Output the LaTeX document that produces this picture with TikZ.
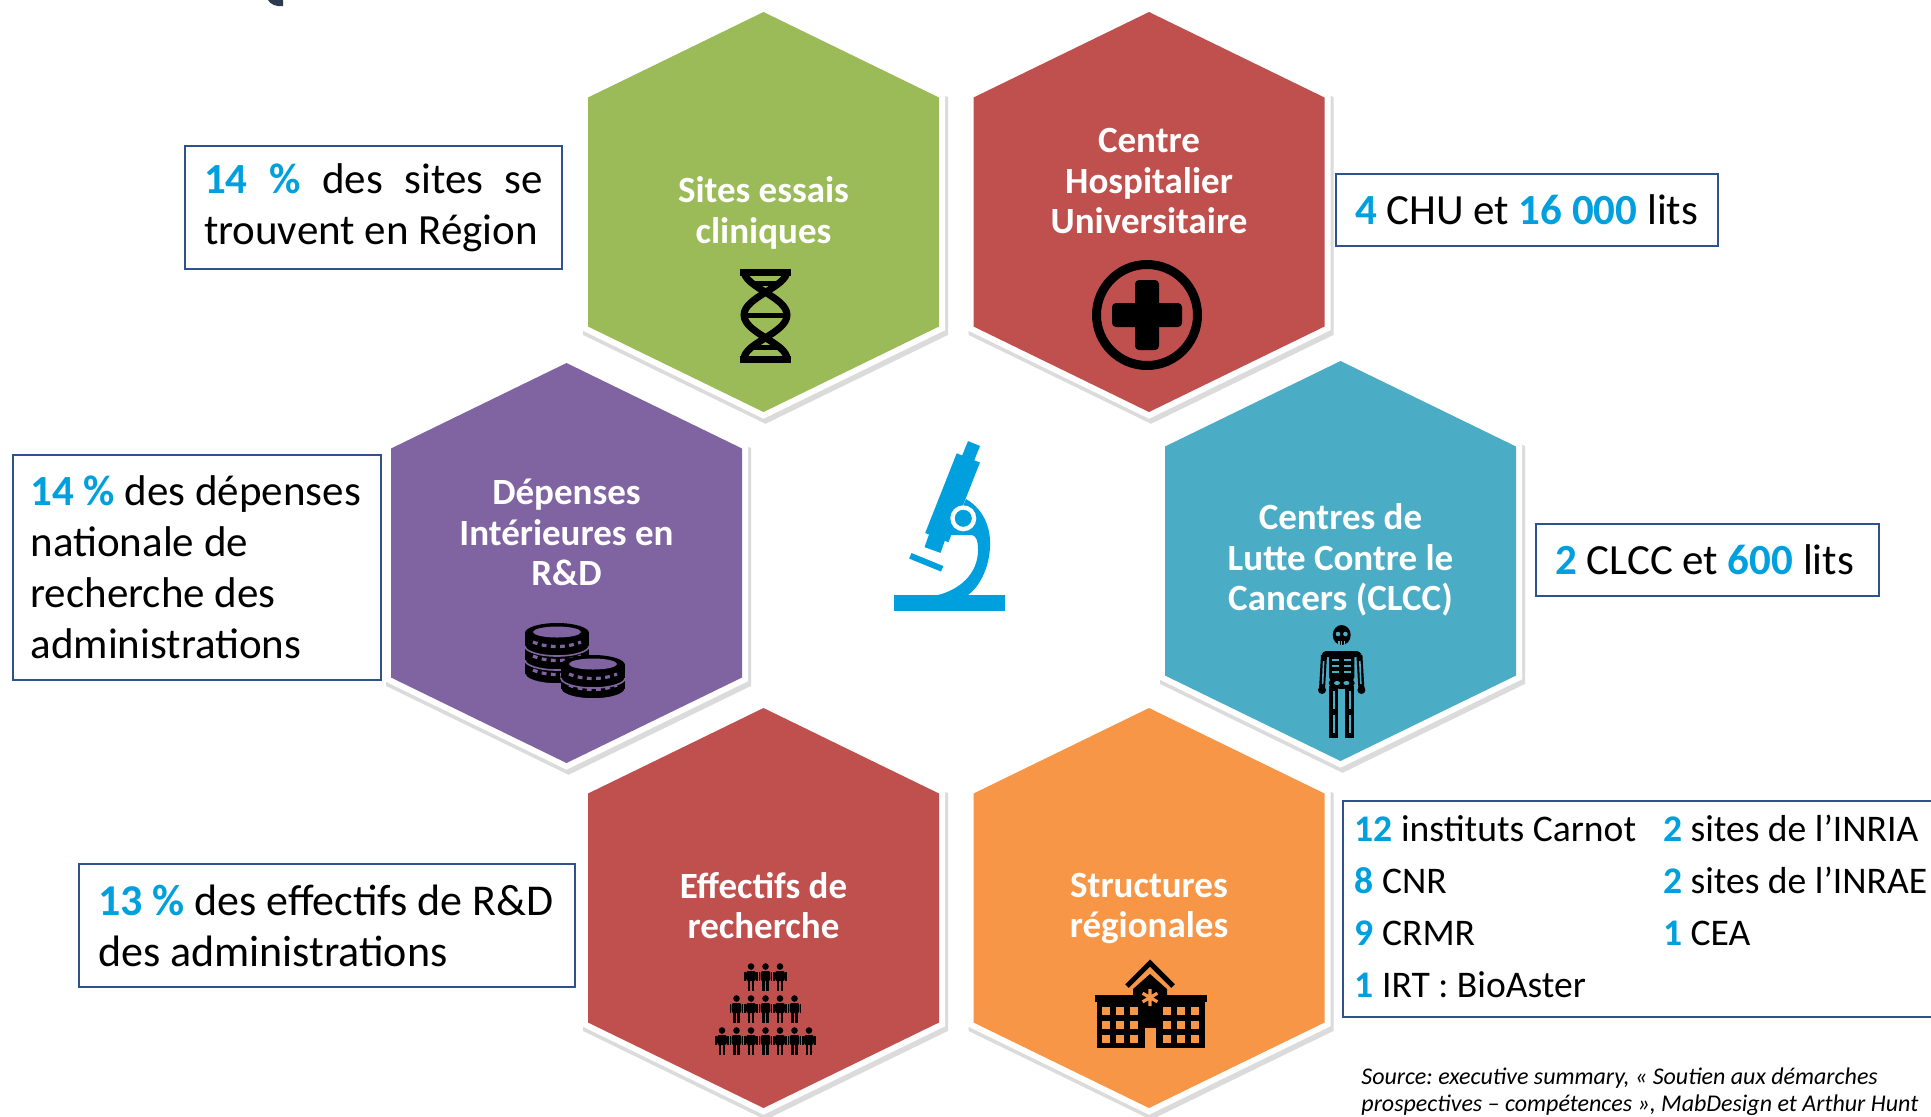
\documentclass[tikz,border=0pt]{standalone}
\usepackage{fontspec}
\setmainfont{Carlito}
\definecolor{hexgreen}{RGB}{155,187,89}
\definecolor{hexred}{RGB}{192,80,77}
\definecolor{hexpurple}{RGB}{128,100,162}
\definecolor{hexteal}{RGB}{75,172,198}
\definecolor{hexorange}{RGB}{247,150,70}
\definecolor{numblue}{RGB}{0,160,222}
\definecolor{boxblue}{RGB}{47,82,143}
\definecolor{inkblue}{RGB}{46,58,80}

\newcommand{\hexfont}{\fontsize{18.5}{20.25}\selectfont\bfseries}
\newcommand{\boxfont}{\fontsize{21.5}{25.5}\selectfont}
\newcommand{\listfont}{\fontsize{18.8}{26}\selectfont}
\newcommand{\srcfont}{\fontsize{12}{13.5}\selectfont\itshape}
\newcommand{\hl}[1]{\textbf{\textcolor{numblue}{#1}}}

\tikzstyle{hexshadow} = [draw=black!14, fill=black!14, line width=7pt, line join=miter, transform canvas={shift={(1pt,-2pt)}}]
\tikzstyle{hexrim} = [draw=white, fill=white, line width=6pt, line join=miter]
\tikzstyle{hexlabel} = [text=white, font=\hexfont, align=center, inner sep=0pt]
\tikzstyle{plainspace} = [execute at begin node={\frenchspacing\spaceskip=0pt\xspaceskip=0pt\relax}]
\tikzstyle{factbox} = [rectangle, draw=boxblue, line width=1pt, fill=white, font=\boxfont, align=left, plainspace, inner xsep=9.5pt, inner ysep=0pt, anchor=north west]
\tikzstyle{icon} = [fill=black]

% one honeycomb cell round a named centre
\newcommand{\hexa}[2]{%
  \path[shift={(#1)}, fill=#2, preaction={hexshadow}, preaction={hexrim}]
    (0,-200) -- (175.5,-114.5) -- (175.5,114.5) -- (0,200) -- (-175.5,114.5) -- (-175.5,-114.5) -- cycle;
}
% one coin, top centre at (#1,#2)
\newcommand{\coin}[2]{%
  \filldraw[icon, draw=hexpurple, line width=0.8pt] (#1,#2+13) ellipse (32 and 10);
  \fill[icon] (#1-32,#2) rectangle (#1+32,#2+13);
  \fill[icon] (#1,#2) ellipse (32 and 10);
  \draw[hexpurple, line width=1.6pt, dash pattern=on 2.4pt off 2.2pt] (#1-24,#2+9) .. controls (#1-10,#2+15) and (#1+10,#2+15) .. (#1+24,#2+9);
}
% one small person, top at (#1,#2)
\newcommand{\person}[2]{%
  \fill[icon] (#1,#2+3.5) circle (3.3);
  \fill[icon, rounded corners=1pt] (#1-4.8,#2+8) rectangle (#1+4.8,#2+18);
  \fill[icon] (#1-6.6,#2+8.6) rectangle (#1-5.4,#2+18);
  \fill[icon] (#1+5.4,#2+8.6) rectangle (#1+6.6,#2+18);
  \fill[icon] (#1-3.2,#2+17) rectangle (#1-0.6,#2+28);
  \fill[icon] (#1+0.6,#2+17) rectangle (#1+3.2,#2+28);
}

\begin{document}
\begin{tikzpicture}[x=0.5pt, y=-0.5pt]
		\path[use as bounding box, fill=white] (0,0) rectangle (1931,1116);
		\fill[inkblue] (268,0) .. controls (270,4) and (276,7) .. (283,6) -- (283,0) -- cycle;

		% honeycomb
		\coordinate (sites) at (763.5,212);
		\coordinate (chu) at (1149,212);
		\coordinate (depenses) at (566.5,563);
		\coordinate (clcc) at (1340.5,561);
		\coordinate (effectifs) at (763.5,908);
		\coordinate (structures) at (1149,908);
		\hexa{sites}{hexgreen}
		\hexa{chu}{hexred}
		\hexa{depenses}{hexpurple}
		\hexa{clcc}{hexteal}
		\hexa{effectifs}{hexred}
		\hexa{structures}{hexorange}

		\node (sitestxt) [hexlabel, yshift=-0.5pt] at (sites) {Sites essais\\cliniques};
		\node (chutxt) [hexlabel, yshift=15.5pt] at (chu) {Centre\\Hospitalier\\Universitaire};
		\node (depensestxt) [hexlabel, yshift=15.25pt] at (depenses) {Dépenses\\Intérieures en\\R\&D};
		\node (clcctxt) [hexlabel, yshift=0.5pt] at (clcc) {Centres de\\Lutte Contre le\\Cancers (CLCC)};
		\node (effectifstxt) [hexlabel, yshift=1.25pt] at (effectifs) {Effectifs de\\recherche};
		\node (structurestxt) [hexlabel, yshift=-0.25pt] at (structures) {Structures\\régionales};

		% facts
		\node (sitesbox) [factbox, text width=169.5pt, minimum height=61.5pt] at (184,145) {\hl{14} \hfill \hl{\%} \hfill des \hfill sites \hfill se\\trouvent en Région};
		\node (depensesbox) [factbox, inner xsep=9pt, text width=166.25pt, minimum height=112.5pt] at (11.5,454) {\hl{14 \%} des dépenses\\nationale de\\recherche des\\administrations};
		\node (chubox) [factbox, text width=171.75pt, minimum height=36pt] at (1335,173) {\hl{4} CHU et \hl{16~000} lits};
		\node (clccbox) [factbox, text width=152.25pt, minimum height=36pt] at (1535,523) {\hl{2} CLCC et \hl{600} lits};
		\node (effectifsbox) [factbox, font=\fontsize{22}{25.5}\selectfont, text width=229pt, minimum height=61.5pt] at (78,863) {\hl{13 \%} des effectifs de R\&D\\des administrations};
		\node (structuresbox) [factbox, font=\listfont, inner xsep=5.75pt, text width=300pt, minimum height=108pt] at (1342,800) {%
			\begin{tabular}{@{}p{154.25pt}@{}l@{}}
			\hl{12} instituts Carnot & \hl{2} sites de l’INRIA\\
			\hl{8} CNR & \hl{2} sites de l’INRAE\\
			\hl{9} CRMR & \hl{1} CEA\\
			\hl{1} IRT : BioAster &
			\end{tabular}};
		\node (source) [font=\srcfont, align=left, plainspace, anchor=north west, inner sep=0pt] at (1361,1067) {Source: executive summary, «~Soutien aux démarches\\prospectives – compétences~», MabDesign et Arthur Hunt};

		% microscope
		\draw[numblue, line width=12.5pt] (968.3,457.9) -- (936.8,537.6);
		\draw[numblue, line width=6.5pt] (966.5,462) -- (974,443.5);
		\draw[numblue, line width=8.5pt] (937.5,536) -- (932.5,550);
		\draw[numblue, line width=3pt] (910.3,555.8) -- (942.2,568.8);
		\fill[numblue] (966,499) .. controls (985,510) and (991,530) .. (990,547) .. controls (989,570) and (978,588) .. (968,595) -- (938,595) .. controls (958,590) and (978,575) .. (978,550) .. controls (978,540) and (976,536) .. (972,535) -- (950,535) -- cycle;
		\fill[numblue] (894,595) rectangle (1005,611);
		\fill[white] (963.3,518.3) circle (13);
		\fill[numblue] (963.3,518.3) circle (8.5);

		% dna
		\draw[line width=3.5pt] (744,271) .. controls (744,287) and (787,297) .. (787,315) .. controls (787,333) and (744,343) .. (744,359);
		\draw[line width=3.5pt] (787,271) .. controls (787,287) and (744,297) .. (744,315) .. controls (744,333) and (787,343) .. (787,359);
		\draw[line width=3.5pt] (740,272) -- (791,272);
		\draw[line width=3.5pt] (740,359) -- (791,359);
		\draw[line width=2.5pt] (752,283) -- (779,283);
		\draw[line width=2.5pt] (745,315) -- (786,315);
		\draw[line width=2.5pt] (752,347) -- (779,347);

		% cross
		\draw[line width=4.5pt] (1147,315) circle (50.5);
		\fill[icon, rounded corners=2pt] (1135,280) rectangle (1159,350);
		\fill[icon, rounded corners=2pt] (1112,303) rectangle (1182,327);

		% coins
		\coin{557}{661}
		\coin{557}{647}
		\coin{557}{633}
		\fill[hexpurple] (557,632) ellipse (24 and 5.5);
		\coin{593}{676}
		\coin{593}{665}
		\fill[hexpurple] (593,664) ellipse (24 and 5.5);

		% skeleton
		\fill[icon] (1341.7,635) ellipse (9 and 10);
		\fill[hexteal] (1338,634) circle (2.3);
		\fill[hexteal] (1345.4,634) circle (2.3);
		\draw[hexteal, line width=0.6pt] (1339,641) -- (1339,645) (1341.7,641) -- (1341.7,645) (1344.4,641) -- (1344.4,645);
		\fill[icon, rounded corners=2pt] (1322,651) rectangle (1361,657);
		\fill[icon, rounded corners=2pt] (1329,651) rectangle (1354.4,681);
		\foreach \y in {660,666,672}
			\draw[hexteal, line width=1.3pt] (1332,\y) -- (1339,\y) (1344.4,\y) -- (1351.4,\y);
		\draw[line width=3pt] (1324,655) -- (1322,689);
		\draw[line width=3pt] (1359.4,655) -- (1361.4,689);
		\draw[hexteal, line width=0.8pt] (1323.6,661) -- (1322.6,684) (1359.8,661) -- (1360.8,684);
		\fill[icon] (1322,690) circle (4);
		\fill[icon] (1361.4,690) circle (4);
		\fill[icon] (1341.7,683) ellipse (13 and 6);
		\fill[hexteal] (1337,683) ellipse (3 and 2);
		\fill[hexteal] (1346.4,683) ellipse (3 and 2);
		\fill[icon] (1329,686) rectangle (1338,738);
		\fill[icon] (1345.4,686) rectangle (1354.4,738);
		\draw[hexteal, line width=1pt] (1333.5,691) -- (1333.5,709) (1333.5,715) -- (1333.5,733) (1349.9,691) -- (1349.9,709) (1349.9,715) -- (1349.9,733);

		% people
		\foreach \i in {0,...,2} {\person{751+14.5*\i}{963}}
		\foreach \i in {0,...,4} {\person{736.5+14.5*\i}{995}}
		\foreach \i in {0,...,6} {\person{722+14.5*\i}{1027}}

		% building
		\draw[line width=2.5pt, line join=miter] (1127,986) -- (1150,963) -- (1173,986);
		\fill[icon] (1150,974) -- (1167,989) -- (1167,996) -- (1133,996) -- (1133,989) -- cycle;
		\fill[icon] (1095,995) rectangle (1207,1002);
		\fill[icon] (1097,1002) rectangle (1205,1048);
		\foreach \x in {1102,1116,1130,1163,1177,1191}
			\foreach \y in {1007,1021,1034.5}
				\fill[hexorange] (\x,\y) rectangle ++(8.3,8);
		\fill[hexorange] (1145,1028) rectangle (1156,1048);
		\draw[hexorange, line width=1.6pt] (1150,989) -- (1150,1006) (1142.6,993.2) -- (1157.4,1001.8) (1142.6,1001.8) -- (1157.4,993.2);
	  \end{tikzpicture}
\end{document}
